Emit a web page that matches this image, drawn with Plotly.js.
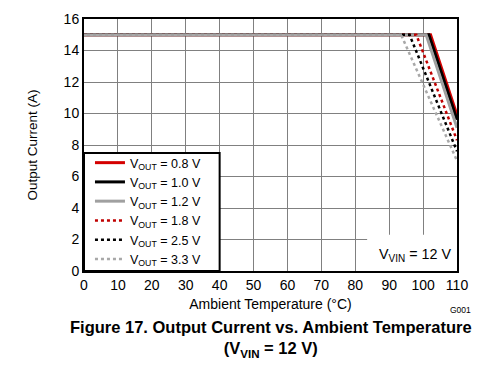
<!DOCTYPE html>
<html>
<head>
<meta charset="utf-8">
<script src="https://cdn.plot.ly/plotly-3.0.1.min.js"></script>
<style>html,body{margin:0;padding:0;background:#fff;}#chart{width:499px;height:372px;}</style>
</head>
<body>
<div id="chart"></div>
<script>
// Series names
const seriesNames = ["V<sub>OUT</sub> = 0.8 V", "V<sub>OUT</sub> = 1.0 V", "V<sub>OUT</sub> = 1.2 V",
                     "V<sub>OUT</sub> = 1.8 V", "V<sub>OUT</sub> = 2.5 V", "V<sub>OUT</sub> = 3.3 V"];
// Temperature (°C) points for each series: start, derating knee, end
const temp08 = [0, 102.2, 110];
const curr08 = [15, 15, 9.9];
const temp10 = [0, 101.7, 110];
const curr10 = [15, 15, 9.6];
const temp12 = [0, 100.9, 110];
const curr12 = [15, 15, 9.1];
const temp18 = [0, 98.0, 110];
const curr18 = [15, 15, 8.3];
const temp25 = [0, 96.0, 110];
const curr25 = [15, 15, 7.6];
const temp33 = [0, 93.5, 110];
const curr33 = [15, 15, 7.0];
// Axis ticks
const xTicks = [0,10,20,30,40,50,60,70,80,90,100,110];
const yTicks = [0,2,4,6,8,10,12,14,16];

const styles = [
  {color:"#d40000", width:3, dash:"solid"},
  {color:"#000000", width:3, dash:"solid"},
  {color:"#a0a0a0", width:3, dash:"solid"},
  {color:"#c00000", width:2.5, dash:"dot"},
  {color:"#000000", width:2.5, dash:"dot"},
  {color:"#a8a8a8", width:2.5, dash:"dot"}
];
const xs = [temp08, temp10, temp12, temp18, temp25, temp33];
const ys = [curr08, curr10, curr12, curr18, curr25, curr33];

const traces = xs.map((x, i) => ({
  x: x, y: ys[i], mode: "lines", name: seriesNames[i], type: "scatter",
  line: styles[i], hoverinfo: "none"
}));

const F = "Liberation Sans, Arial, sans-serif";
const layout = {
  width: 499, height: 372,
  margin: {l: 84, r: 42, t: 19, b: 101},
  paper_bgcolor: "#fff", plot_bgcolor: "#fff",
  font: {family: F, size: 13, color: "#000"},
  showlegend: true,
  legend: {x: 0.016, y: 0.238, xanchor: "left", yanchor: "middle",
           bgcolor: "rgba(0,0,0,0)", borderwidth: 0,
           font: {family: F, size: 12.5}, tracegroupgap: 0, itemwidth: 30},
  xaxis: {range: [0, 110], tickvals: xTicks, showgrid: true, gridcolor: "#808080", gridwidth: 1,
          zeroline: false, showline: true, linecolor: "#000", linewidth: 2, mirror: true,
          ticks: "", tickfont: {size: 14},
          title: {text: "Ambient Temperature (°C)", font: {size: 14}, standoff: 7}},
  yaxis: {range: [0, 16], tickvals: yTicks, showgrid: true, gridcolor: "#808080", gridwidth: 1,
          zeroline: false, showline: true, linecolor: "#000", linewidth: 2, mirror: true,
          ticks: "", tickfont: {size: 14},
          title: {text: "Output Current (A)", font: {size: 13.5}, standoff: 23}},
  shapes: [
    {type: "rect", xref: "x", yref: "y", x0: 0, x1: 40, y0: 0, y1: 7.5,
     fillcolor: "#fff", line: {color: "#000", width: 2}, layer: "above"},
    {type: "rect", xref: "x", yref: "y", x0: 83.5, x1: 110, y0: 0, y1: 2.3,
     fillcolor: "#fff", line: {color: "#000", width: 0}, layer: "above"}
  ],
  annotations: [
    {xref: "x", yref: "y", x: 97.5, y: 1.0, text: "V<sub>VIN</sub> = 12 V", showarrow: false,
     font: {family: F, size: 14.3}},
    {xref: "paper", yref: "paper", x: 1.043, y: -0.155, xanchor: "right", yanchor: "middle",
     text: "G001", showarrow: false, font: {family: F, size: 8.5}},
    {xref: "paper", yref: "paper", x: 0.5, y: -0.18, xanchor: "center", yanchor: "top",
     text: "<b>Figure 17. Output Current vs. Ambient Temperature<br>(V<sub>VIN</sub> = 12 V)</b>",
     showarrow: false, font: {family: F, size: 16.5}}
  ]
};
Plotly.newPlot("chart", traces, layout, {staticPlot: true, displayModeBar: false});
</script>
</body>
</html>
